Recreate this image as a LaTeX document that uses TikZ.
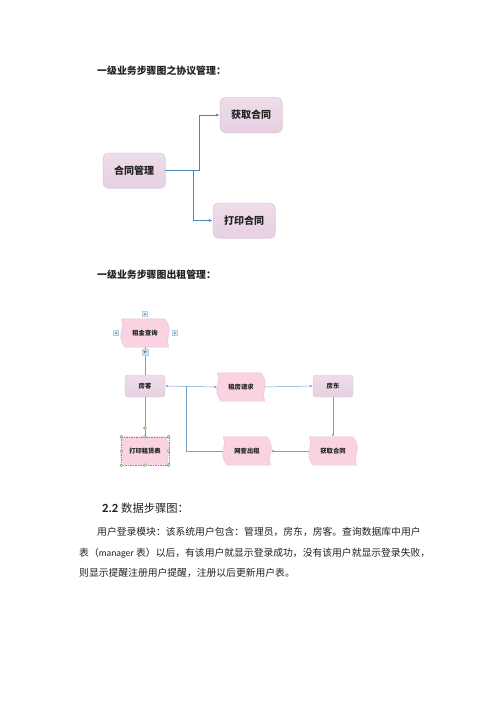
\documentclass[tikz,border=0pt]{standalone}
\usepackage{fontspec}
\newfontfamily\cjk{Noto Sans CJK SC}
\newfontfamily\lat{Carlito}
\usetikzlibrary{calc,arrows.meta,backgrounds,shadows}
\definecolor{boxtop}{HTML}{EEDDEA}
\definecolor{boxmid}{HTML}{FBF6FA}
\definecolor{boxbot}{HTML}{E6D0E1}
\definecolor{boxline}{HTML}{D8C4D4}
\definecolor{wavefill}{HTML}{F9D3E1}
\definecolor{wavemid}{HTML}{FEF3F7}
\definecolor{waveline}{HTML}{EEC3D3}
\definecolor{connA}{HTML}{4A87B8}
\definecolor{connB}{HTML}{74A2C6}
\definecolor{txt}{HTML}{222222}
\definecolor{selg}{HTML}{5DB04A}
\newcommand\wavybox[1]{%
  \shade[top color=wavefill, middle color=wavemid, bottom color=wavefill, draw=waveline, line width=0.4pt]
    (#1.north west) -- ($(#1.north east)+(-4,0)$)
    .. controls ($(#1.north east)!0.4!(#1.south east)+(6,0)$) and ($(#1.north east)!0.6!(#1.south east)+(-4,0)$) .. (#1.south east)
    -- ($(#1.south west)+(4,0)$)
    .. controls ($(#1.south west)!0.4!(#1.north west)+(-6,0)$) and ($(#1.south west)!0.6!(#1.north west)+(4,0)$) .. (#1.north west) -- cycle;}
\begin{document}
\begin{tikzpicture}[x=1pt,y=-1pt,
  bigbox/.style={rounded corners=5pt, draw=boxline, line width=0.5pt, top color=boxtop, middle color=boxmid, bottom color=boxbot,
    minimum width=62pt, minimum height=35pt, inner sep=0pt, font=\cjk\bfseries\fontsize{10}{12}\selectfont, text=txt,
    drop shadow={opacity=0.12, shadow xshift=1pt, shadow yshift=-1pt}},
  smallbox/.style={rounded corners=3pt, draw=boxline, line width=0.4pt, top color=boxtop, middle color=boxmid, bottom color=boxbot,
    minimum width=40pt, minimum height=22pt, inner sep=0pt, font=\cjk\bfseries\fontsize{6.3}{7}\selectfont, text=txt},
  wavenode/.style={minimum width=47pt, minimum height=28pt, inner sep=0pt, font=\cjk\bfseries\fontsize{6.3}{7}\selectfont, text=txt},
  connbig/.style={draw=connA, line width=0.7pt, -{Latex[length=4pt,width=3pt]}},
  connsmall/.style={draw=connB, line width=0.5pt, -{Latex[length=3pt,width=2.4pt]}},
  icon/.style={draw=connB!50, fill=connB!18, line width=0.3pt, minimum size=5pt, inner sep=0pt},
  handle/.style={circle, draw=selg, fill=selg!25, line width=0.4pt, minimum size=3pt, inner sep=0pt},
  title/.style={anchor=west, inner sep=0pt, font=\cjk\bfseries\fontsize{9.9}{11}\selectfont, text=txt},
  para/.style={anchor=west, inner sep=0pt, font=\cjk\fontsize{9.8}{11}\selectfont, text=txt}
]
\useasboundingbox (0,0) rectangle (500,707);

% ---------- diagram 1 ----------
\node[title] (t1) at (97,71) {一级业务步骤图之协议管理：};
\node[bigbox] (htgl) at (134,170.5) {合同管理};
\node[bigbox] (hqht1) at (251,115) {获取合同};
\node[bigbox] (dyht) at (244,220.5) {打印合同};
\draw[connbig] (htgl.east) -- ++(34,0) |- (hqht1.west);
\draw[connbig] (htgl.east) -- ++(28,0) |- (dyht.west);

% ---------- diagram 2 ----------
\node[title] (t2) at (97,275) {一级业务步骤图出租管理：};
\node[wavenode] (zjcx) at (145,333) {租金查询};
\node[smallbox] (fk) at (145,386) {房客};
\node[wavenode] (zfqq) at (241,387) {租房请求};
\node[smallbox] (fd) at (333,386) {房东};
\node[wavenode] (hqht) at (333,451) {获取合同};
\node[wavenode] (wccz) at (247,451) {网查出租};
\node[wavenode] (dy) at (145,451) {打印租赁表};
\begin{scope}[on background layer]
  \fill[white] (0,0) rectangle (500,707);
  \wavybox{zjcx}\wavybox{zfqq}\wavybox{hqht}\wavybox{wccz}\wavybox{dy}
\end{scope}

\coordinate (j) at (186,386);
\node[handle] (h0) at (145,428) {};
\draw[draw=connB, line width=0.5pt] (fk.north) -- (zjcx.south);
\draw[draw=connB, line width=0.5pt] (fk.south) -- (h0.north);
\draw[connsmall, {Latex[length=3pt,width=2.4pt]}-{Latex[length=3pt,width=2.4pt]}] (fk.east) -- (zfqq.west);
\draw[connsmall] (zfqq.east) -- (fd.west);
\draw[connsmall] (fd.south) -- (hqht.north);
\draw[connsmall] (hqht.west) -- (wccz.east);
\draw[draw=connB, line width=0.5pt] (wccz.west) -| (j);

% icons around 租金查询
\node[icon] (iu) at (145,314) {};
\node[icon] (il) at (116,333) {};
\node[icon] (ir) at (175,333) {};
\node[icon, minimum size=6pt, fill=connB!30] (id) at (145,352) {};
\fill[connB] ($(iu.center)+(0,-1.3)$) -- ($(iu.center)+(-1.5,1)$) -- ($(iu.center)+(1.5,1)$) -- cycle;
\fill[connB] ($(il.center)+(-1.3,0)$) -- ($(il.center)+(1,-1.5)$) -- ($(il.center)+(1,1.5)$) -- cycle;
\fill[connB] ($(ir.center)+(1.3,0)$) -- ($(ir.center)+(-1,-1.5)$) -- ($(ir.center)+(-1,1.5)$) -- cycle;
\fill[connA] ($(id.center)+(0,1.5)$) -- ($(id.center)+(-1.8,-1.2)$) -- ($(id.center)+(1.8,-1.2)$) -- cycle;

% selection handles on 打印租赁表
\draw[draw=selg, line width=0.4pt, dash pattern=on 1.5pt off 1pt] (dy.north west) rectangle (dy.south east);
\draw[draw=selg, line width=0.4pt] (h0.south) -- (dy.north);
\foreach \a in {north west,north,north east,west,east,south west,south,south east}
  \node[handle] at (dy.\a) {};

% ---------- text ----------
\node[anchor=west, inner sep=0pt, text=txt] (h22) at (102,508)
  {{\lat\bfseries\fontsize{12.5}{14}\selectfont 2.2}\hspace{3pt}{\cjk\fontsize{11.3}{13}\selectfont 数据步骤图：}};
\node[para] (p1) at (97,532) {用户登录模块：该系统用户包含：管理员，房东，房客。查询数据库中用户};
\node[para] (p2) at (79,553) {表（{\lat manager} 表）以后，有该用户就显示登录成功，没有该用户就显示登录失败，};
\node[para] (p3) at (79,573) {则显示提醒注册用户提醒，注册以后更新用户表。};
\end{tikzpicture}
\end{document}
